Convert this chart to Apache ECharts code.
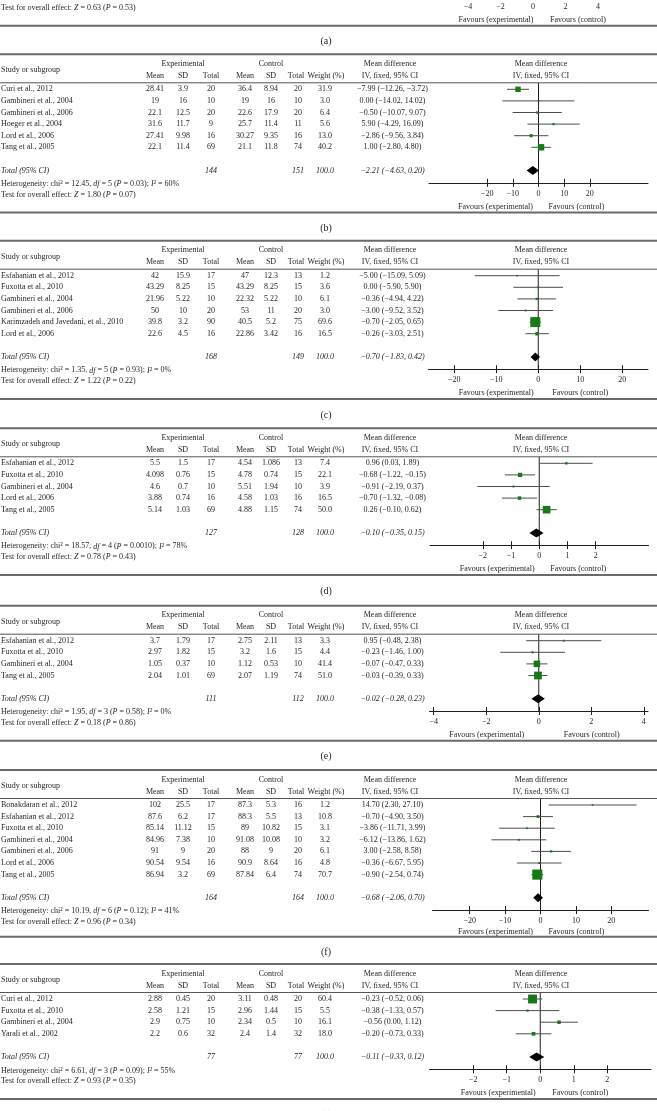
<!DOCTYPE html>
<html><head><meta charset="utf-8">
<script src="https://cdn.jsdelivr.net/npm/echarts@6/dist/echarts.min.js"></script>
<style>html,body{margin:0;padding:0;background:#fff}#c{width:657px;height:1111px}</style>
</head><body><div id="c"></div>
<script>
// ---------------- DATA ----------------
// row: [study, expMean, expSD, expTotal, ctlMean, ctlSD, ctlTotal, weight, MD, lower, upper, (optional displayed CI text)]
const testA = ["0.63", "0.53"];
const ticksA = [-4, -2, 0, 2, 4];

const rowsB = [
  ["Curi et al., 2012", 28.41, 3.9, 20, 36.4, 8.94, 20, 31.9, -7.99, -12.26, -3.72],
  ["Gambineri et al., 2004", 19, 16, 10, 19, 16, 10, 3.0, 0.00, -14.02, 14.02],
  ["Gambineri et al., 2006", 22.1, 12.5, 20, 22.6, 17.9, 20, 6.4, -0.50, -10.07, 9.07],
  ["Hoeger et al., 2004", 31.6, 11.7, 9, 25.7, 11.4, 11, 5.6, 5.90, -4.29, 16.09],
  ["Lord et al., 2006", 27.41, 9.98, 16, 30.27, 9.35, 16, 13.0, -2.86, -9.56, 3.84],
  ["Tang et al., 2005", 22.1, 11.4, 69, 21.1, 11.8, 74, 40.2, 1.00, -2.80, 4.80]
];
const totalB = [144, 151, 100.0, -2.21, -4.63, 0.20];
const hetB = ["12.45", "5", "0.03", "60"];
const testB = ["1.80", "0.07"];
const ticksB = [-20, -10, 0, 10, 20];

const rowsC = [
  ["Esfahanian et al., 2012", 42, 15.9, 17, 47, 12.3, 13, 1.2, -5.00, -15.09, 5.09],
  ["Fuxotta et al., 2010", 43.29, 8.25, 15, 43.29, 8.25, 15, 3.6, 0.00, -5.90, 5.90],
  ["Gambineri et al., 2004", 21.96, 5.22, 10, 22.32, 5.22, 10, 6.1, -0.36, -4.94, 4.22],
  ["Gambineri et al., 2006", 50, 10, 20, 53, 11, 20, 3.0, -3.00, -9.52, 3.52],
  ["Karimzadeh and Javedani, et al., 2010", 39.8, 3.2, 90, 40.5, 5.2, 75, 69.6, -0.70, -2.05, 0.65],
  ["Lord et al., 2006", 22.6, 4.5, 16, 22.86, 3.42, 16, 16.5, -0.26, -3.03, 2.51]
];
const totalC = [168, 149, 100.0, -0.70, -1.83, 0.42];
const hetC = ["1.35", "5", "0.93", "0"];
const testC = ["1.22", "0.22"];
const ticksC = [-20, -10, 0, 10, 20];

const rowsD = [
  ["Esfahanian et al., 2012", 5.5, 1.5, 17, 4.54, 1.086, 13, 7.4, 0.96, 0.03, 1.89],
  ["Fuxotta et al., 2010", 4.098, 0.76, 15, 4.78, 0.74, 15, 22.1, -0.68, -1.22, -0.15],
  ["Gambineri et al., 2004", 4.6, 0.7, 10, 5.51, 1.94, 10, 3.9, -0.91, -2.19, 0.37],
  ["Lord et al., 2006", 3.88, 0.74, 16, 4.58, 1.03, 16, 16.5, -0.70, -1.32, -0.08],
  ["Tang et al., 2005", 5.14, 1.03, 69, 4.88, 1.15, 74, 50.0, 0.26, -0.10, 0.62]
];
const totalD = [127, 128, 100.0, -0.10, -0.35, 0.15];
const hetD = ["18.57", "4", "0.0010", "78"];
const testD = ["0.78", "0.43"];
const ticksD = [-2, -1, 0, 1, 2];

const rowsE = [
  ["Esfahanian et al., 2012", 3.7, 1.79, 17, 2.75, 2.11, 13, 3.3, 0.95, -0.48, 2.38],
  ["Fuxotta et al., 2010", 2.97, 1.82, 15, 3.2, 1.6, 15, 4.4, -0.23, -1.46, 1.00],
  ["Gambineri et al., 2004", 1.05, 0.37, 10, 1.12, 0.53, 10, 41.4, -0.07, -0.47, 0.33],
  ["Tang et al., 2005", 2.04, 1.01, 69, 2.07, 1.19, 74, 51.0, -0.03, -0.39, 0.33]
];
const totalE = [111, 112, 100.0, -0.02, -0.28, 0.23];
const hetE = ["1.95", "3", "0.58", "0"];
const testE = ["0.18", "0.86"];
const ticksE = [-4, -2, 0, 2, 4];

const rowsF = [
  ["Bonakdaran et al., 2012", 102, 25.5, 17, 87.3, 5.3, 16, 1.2, 14.70, 2.30, 27.10],
  ["Esfahanian et al., 2012", 87.6, 6.2, 17, 88.3, 5.5, 13, 10.8, -0.70, -4.90, 3.50],
  ["Fuxotta et al., 2010", 85.14, 11.12, 15, 89, 10.82, 15, 3.1, -3.86, -11.71, 3.99],
  ["Gambineri et al., 2004", 84.96, 7.38, 10, 91.08, 10.08, 10, 3.2, -6.12, -13.86, 1.62],
  ["Gambineri et al., 2006", 91, 9, 20, 88, 9, 20, 6.1, 3.00, -2.58, 8.58],
  ["Lord et al., 2006", 90.54, 9.54, 16, 90.9, 8.64, 16, 4.8, -0.36, -6.67, 5.95],
  ["Tang et al., 2005", 86.94, 3.2, 69, 87.84, 6.4, 74, 70.7, -0.90, -2.54, 0.74]
];
const totalF = [164, 164, 100.0, -0.68, -2.06, 0.70];
const hetF = ["10.19", "6", "0.12", "41"];
const testF = ["0.96", "0.34"];
const ticksF = [-20, -10, 0, 10, 20];

const rowsG = [
  ["Curi et al., 2012", 2.88, 0.45, 20, 3.11, 0.48, 20, 60.4, -0.23, -0.52, 0.06],
  ["Fuxotta et al., 2010", 2.58, 1.21, 15, 2.96, 1.44, 15, 5.5, -0.38, -1.33, 0.57],
  ["Gambineri et al., 2004", 2.9, 0.75, 10, 2.34, 0.5, 10, 16.1, 0.56, 0.00, 1.12, "\u22120.56 (0.00, 1.12)"],
  ["Yarali et al., 2002", 2.2, 0.6, 32, 2.4, 1.4, 32, 18.0, -0.20, -0.73, 0.33]
];
const totalG = [77, 77, 100.0, -0.11, -0.33, 0.12];
const hetG = ["6.61", "3", "0.09", "55"];
const testG = ["0.93", "0.35"];
const ticksG = [-2, -1, 0, 1, 2];

// ---------------- LAYOUT / STYLE ----------------
const FONT = "'Liberation Serif','DejaVu Serif',serif";
const FS = 8;
const INK = '#231f20';
const GREEN = '#157a15';
const ROW = 11.6;

const panels = [
  {lab:'(a)', T:-62.9, rows:[], total:null, het:null, test:testA, ticks:ticksA, ext:6.7, left:424, right:642, fav:[-37,45]},
  {lab:'(b)', T:54.3, rows:rowsB, total:totalB, het:hetB, test:testB, ticks:ticksB, ext:42.7, left:429, right:648, fav:[-43,38]},
  {lab:'(c)', T:240.7, rows:rowsC, total:totalC, het:hetC, test:testC, ticks:ticksC, ext:26.1, left:428.5, right:648, fav:[-42,42]},
  {lab:'(d)', T:428.3, rows:rowsD, total:totalD, het:hetD, test:testD, ticks:ticksD, ext:3.87, left:430, right:648.5, fav:[-42,39]},
  {lab:'(e)', T:605.7, rows:rowsE, total:totalE, het:hetE, test:testE, ticks:ticksE, ext:4.16, left:429.5, right:648, fav:[-52,53]},
  {lab:'(f)', T:770, rows:rowsF, total:totalF, het:hetF, test:testF, ticks:ticksF, ext:30.5, left:432.5, right:648.5, fav:[-45,36], ruleOff:39, favOff:34},
  {lab:'(g)', T:964, rows:rowsG, total:totalG, het:hetG, test:testG, ticks:ticksG, ext:3.3, left:429.5, right:651, fav:[-42,40]}
];

const COLX = {eMean:155, eSD:183, eN:211, cMean:245, cSD:271, cN:298, w:325, md:392.5, hdrMD:390, hdrPlot:541};

function neg(v){ return v < 0 ? '\u2212' + String(Math.abs(v)) : String(v); }
function f2(v){ return (v < 0 ? '\u2212' : '') + Math.abs(v).toFixed(2); }
function ci(md, lo, hi){ return f2(md) + ' (' + f2(lo) + ', ' + f2(hi) + ')'; }

function txt(x, y, s, o){
  o = o || {};
  return {type:'text', x:x, y:y, silent:true, z:10,
    style:{text:s, fontSize:o.size||FS, fontFamily:FONT, fontStyle:o.italic?'italic':'normal',
      fill:o.color||INK, align:o.align||'center', verticalAlign:'middle',
      textAlign:o.align||'center', textVerticalAlign:'middle'}};
}
function rich(x, y, s){
  const base = {fontSize:FS, fontFamily:FONT, fill:INK};
  return {type:'text', x:x, y:y, silent:true, z:10,
    style:{text:s, align:'left', verticalAlign:'middle', textAlign:'left', textVerticalAlign:'middle',
      fontSize:FS, fontFamily:FONT, fill:INK,
      rich:{n:base, i:Object.assign({}, base, {fontStyle:'italic'})}}};
}
function hline(y, w, color){
  return {type:'line', silent:true, z:5, shape:{x1:0, y1:y, x2:657, y2:y}, style:{stroke:color, lineWidth:w}};
}

const grids = [], xAxes = [], yAxes = [], series = [], G = [];

panels.forEach(function(p, k){
  const n = p.rows.length;
  const rowY = function(i){ return p.T + 35 + i * ROW; };
  const totalY = rowY(n + 1);
  const yMin = -0.56, yMax = n + 1 + 12.3 / ROW;
  const top = rowY(yMin), height = (yMax - yMin) * ROW;
  grids.push({left:p.left, width:p.right - p.left, top:top, height:height, containLabel:false, outerBoundsMode:'none'});
  const common = {gridIndex:k, type:'value', min:-p.ext, max:p.ext, splitLine:{show:false}};
  // main axis: line, downward ticks, labels
  xAxes.push(Object.assign({}, common, {
    position:'bottom',
    axisLine:{show:true, onZero:false, lineStyle:{color:INK, width:1}},
    axisTick:{show:true, customValues:p.ticks, length:4, lineStyle:{color:INK, width:1}},
    axisLabel:{show:true, customValues:p.ticks, fontSize:FS, fontFamily:FONT, color:INK, margin:7, formatter:function(v){return neg(v);}}
  }));
  // companion axis moved onto the same line: upward ticks
  xAxes.push(Object.assign({}, common, {
    position:'top', offset:-height,
    axisLine:{show:false, onZero:false},
    axisTick:{show:true, customValues:p.ticks, length:4, lineStyle:{color:INK, width:1}},
    axisLabel:{show:false}
  }));
  yAxes.push({gridIndex:k, type:'value', min:yMin, max:yMax, inverse:true, show:false});

  const xi = 2 * k;
  if (n > 0) {
    series.push({type:'line', xAxisIndex:xi, yAxisIndex:k, data:[[0, yMin], [0, yMax]], symbol:'none',
      lineStyle:{color:INK, width:1}, silent:true, animation:false, z:2});
    series.push({type:'custom', xAxisIndex:xi, yAxisIndex:k, animation:false, silent:true, z:3,
      data:p.rows.map(function(r, i){ return [r[8], i, r[9], r[10], r[7]]; }),
      renderItem:function(params, api){
        const row = api.value(1);
        const c = api.coord([api.value(0), row]);
        const a = api.coord([api.value(2), row]);
        const b = api.coord([api.value(3), row]);
        const s = 1.5 + 0.122 * api.value(4);
        return {type:'group', children:[
          {type:'line', shape:{x1:a[0], y1:c[1], x2:b[0], y2:c[1]}, style:{stroke:'#4d4d4d', lineWidth:1}},
          {type:'rect', shape:{x:c[0] - s/2, y:c[1] - s/2, width:s, height:s}, style:{fill:GREEN}}
        ]};
      }
    });
    series.push({type:'custom', xAxisIndex:xi, yAxisIndex:k, animation:false, silent:true, z:4,
      data:[[p.total[3], n + 1, p.total[4], p.total[5]]],
      renderItem:function(params, api){
        const row = api.value(1);
        const c = api.coord([api.value(0), row]);
        const a = api.coord([api.value(2), row]);
        const b = api.coord([api.value(3), row]);
        const h = 4.5;
        return {type:'polygon', shape:{points:[[a[0], c[1]], [c[0], c[1] - h], [b[0], c[1]], [c[0], c[1] + h]]},
          style:{fill:'#000'}};
      }
    });
  }

  // ---- table text ----
  if (n > 0) {
    G.push(hline(p.T, 2, '#6a6a6a'));
    const h1 = p.T + 9.5, h2 = p.T + 21.5;
    G.push(txt(183, h1, 'Experimental'));
    G.push(txt(271, h1, 'Control'));
    G.push(txt(COLX.hdrMD, h1, 'Mean difference'));
    G.push(txt(COLX.hdrPlot, h1, 'Mean difference'));
    G.push(txt(1, p.T + 16, 'Study or subgroup', {align:'left'}));
    G.push(txt(COLX.eMean, h2, 'Mean'));
    G.push(txt(COLX.eSD, h2, 'SD'));
    G.push(txt(COLX.eN, h2, 'Total'));
    G.push(txt(COLX.cMean, h2, 'Mean'));
    G.push(txt(COLX.cSD, h2, 'SD'));
    G.push(txt(296, h2, 'Total'));
    G.push(txt(326, h2, 'Weight (%)'));
    G.push(txt(COLX.hdrMD, h2, 'IV, fixed, 95% CI'));
    G.push(txt(COLX.hdrPlot, h2, 'IV, fixed, 95% CI'));
    G.push(hline(p.T + 28.5, 1, '#555'));
    p.rows.forEach(function(r, i){
      const y = rowY(i);
      G.push(txt(1, y, r[0], {align:'left'}));
      G.push(txt(COLX.eMean, y, String(r[1])));
      G.push(txt(COLX.eSD, y, String(r[2])));
      G.push(txt(COLX.eN, y, String(r[3])));
      G.push(txt(COLX.cMean, y, String(r[4])));
      G.push(txt(COLX.cSD, y, String(r[5])));
      G.push(txt(COLX.cN, y, String(r[6])));
      G.push(txt(COLX.w, y, r[7].toFixed(1)));
      G.push(txt(COLX.md, y, r[11] || ci(r[8], r[9], r[10])));
    });
    G.push(txt(1, totalY, 'Total (95% CI)', {align:'left', italic:true}));
    G.push(txt(COLX.eN, totalY, String(p.total[0]), {italic:true}));
    G.push(txt(COLX.cN, totalY, String(p.total[1]), {italic:true}));
    G.push(txt(COLX.w, totalY, p.total[2].toFixed(1), {italic:true}));
    G.push(txt(COLX.md, totalY, ci(p.total[3], p.total[4], p.total[5]), {italic:true}));
    const h = p.het;
    G.push(rich(1, totalY + 13.5, '{n|Heterogeneity: chi\u00b2 = ' + h[0] + ', }{i|df}{n| = ' + h[1] + ' (}{i|P}{n| = ' + h[2] + '); }{i|I\u00b2}{n| = ' + h[3] + '%}'));
  }
  G.push(rich(1, totalY + 24.3, '{n|Test for overall effect: }{i|Z}{n| = ' + p.test[0] + ' (}{i|P}{n| = ' + p.test[1] + ')}'));
  const zeroX = (p.left + p.right) / 2;
  const favY = totalY + (p.favOff || 36);
  G.push(txt(zeroX + p.fav[0], favY, 'Favours (experimental)'));
  G.push(txt(zeroX + p.fav[1], favY, 'Favours (control)'));
  const ruleY = totalY + (p.ruleOff || 42);
  G.push(hline(ruleY, 2, '#6a6a6a'));
  G.push(txt(326, ruleY + 16, p.lab, {size:10}));
});

const chart = echarts.init(document.getElementById('c'), null, {renderer:'canvas', width:657, height:1111});
chart.setOption({
  animation:false,
  backgroundColor:'#fff',
  grid:grids, xAxis:xAxes, yAxis:yAxes, series:series,
  graphic:{elements:G}
});
</script>
</body></html>
